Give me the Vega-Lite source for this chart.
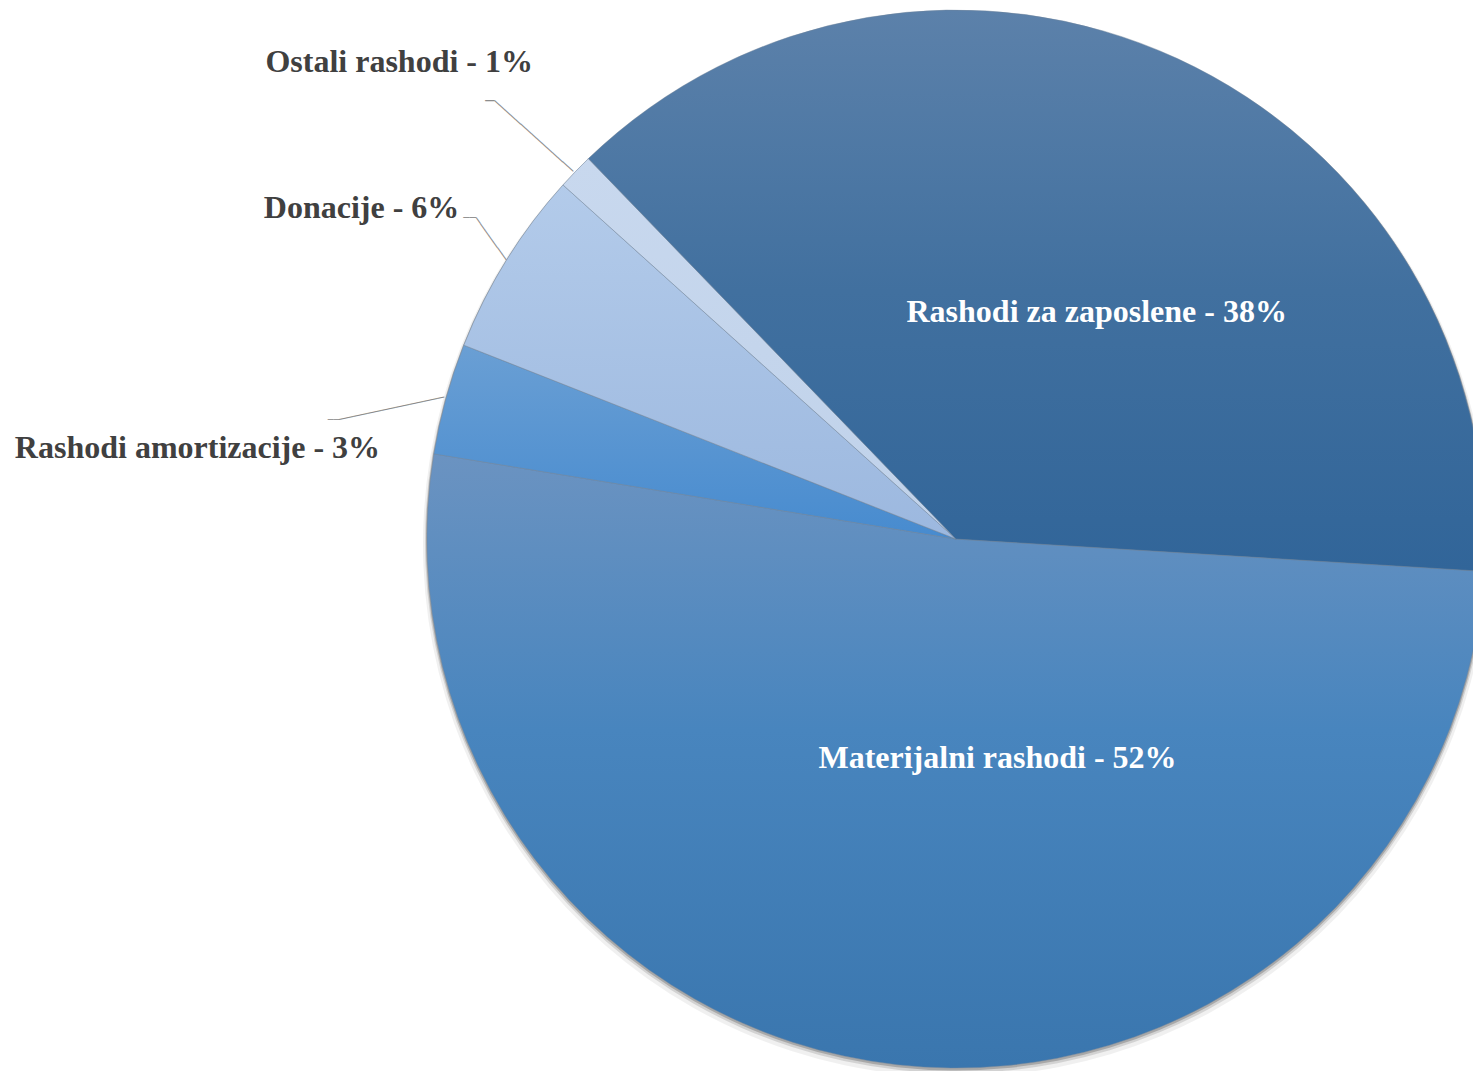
{
  "$schema": "https://vega.github.io/schema/vega-lite/v6.json",
  "width": 1473,
  "height": 1071,
  "padding": 0,
  "autosize": {"type": "none"},
  "background": "white",
  "config": {"view": {"stroke": null}},
  "data": {
    "values": [
      {"name": "Materijalni rashodi", "value": 51.6, "order": 1, "label": "Materijalni rashodi - 52%"},
      {"name": "Rashodi amortizacije", "value": 3.4, "order": 2, "label": "Rashodi amortizacije - 3%"},
      {"name": "Donacije", "value": 5.7, "order": 3, "label": "Donacije - 6%"},
      {"name": "Ostali rashodi", "value": 1.1, "order": 4, "label": "Ostali rashodi - 1%"},
      {"name": "Rashodi za zaposlene", "value": 38.2, "order": 5, "label": "Rashodi za zaposlene - 38%"}
    ]
  },
  "encoding": {
    "theta": {"field": "value", "type": "quantitative", "stack": true, "scale": {"range": [1.6319, 7.9151]}},
    "order": {"field": "order", "type": "quantitative"}
  },
  "layer": [
    {
      "mark": {"type": "arc", "x": {"expr": "width*0.649"}, "y": {"expr": "height*0.5033+5"}, "outerRadius": 533, "fill": "#000000", "opacity": 0.06, "stroke": null}
    },
    {
      "mark": {"type": "arc", "x": {"expr": "width*0.649"}, "y": {"expr": "height*0.5033+3"}, "outerRadius": 531, "fill": "#000000", "opacity": 0.12, "stroke": null}
    },
    {
      "mark": {"type": "arc", "x": {"expr": "width*0.649"}, "y": {"expr": "height*0.5033+1.5"}, "outerRadius": 530, "fill": "#000000", "opacity": 0.2, "stroke": null}
    },
    {
      "mark": {"type": "arc", "x": {"expr": "width*0.649"}, "y": {"expr": "height*0.5033"}, "outerRadius": 529, "stroke": "#6f849c", "strokeWidth": 0.8, "strokeOpacity": 0.6},
      "encoding": {
        "fill": {
          "condition": [
            {"test": "datum.name === 'Materijalni rashodi'", "value": {"gradient": "linear", "x1": 0, "y1": 0, "x2": 0, "y2": 1, "stops": [{"offset": 0, "color": "#6b93c1"}, {"offset": 0.45, "color": "#4885be"}, {"offset": 1, "color": "#3a76ae"}]}},
            {"test": "datum.name === 'Rashodi amortizacije'", "value": {"gradient": "linear", "x1": 0, "y1": 0, "x2": 0, "y2": 1, "stops": [{"offset": 0, "color": "#6a9fd4"}, {"offset": 1, "color": "#478bcf"}]}},
            {"test": "datum.name === 'Donacije'", "value": {"gradient": "linear", "x1": 0, "y1": 0, "x2": 0, "y2": 1, "stops": [{"offset": 0, "color": "#b3cbea"}, {"offset": 1, "color": "#9cb8df"}]}},
            {"test": "datum.name === 'Ostali rashodi'", "value": {"gradient": "linear", "x1": 0, "y1": 0, "x2": 0, "y2": 1, "stops": [{"offset": 0, "color": "#c8d8ee"}, {"offset": 1, "color": "#c0d2ea"}]}}
          ],
          "value": {"gradient": "linear", "x1": 0, "y1": 0, "x2": 0, "y2": 1, "stops": [{"offset": 0, "color": "#5c81aa"}, {"offset": 0.5, "color": "#41709f"}, {"offset": 1, "color": "#316599"}]}
        }
      }
    },
    {
      "mark": {"type": "text", "x": {"expr": "width*0.649"}, "y": {"expr": "height*0.5033"}, "radius": 583.7, "angle": 41.9, "dx": -0.1, "dy": 3.3, "font": "DejaVu Sans Mono", "fontSize": 11.74, "fill": "#8c8c8c", "align": "center", "baseline": "middle"},
      "encoding": {"text": {"condition": {"test": "datum.name === 'Ostali rashodi'", "value": "───────────────"}, "value": ""}}
    },
    {
      "mark": {"type": "text", "x": {"expr": "width*0.649"}, "y": {"expr": "height*0.5033"}, "radius": 640, "dx": -5.9, "dy": 6.1, "font": "DejaVu Sans Mono", "fontSize": 15, "fill": "#8c8c8c", "align": "center", "baseline": "middle"},
      "encoding": {"text": {"condition": {"test": "datum.name === 'Ostali rashodi'", "value": "─"}, "value": ""}}
    },
    {
      "mark": {"type": "text", "x": {"expr": "width*0.649"}, "y": {"expr": "height*0.5033"}, "radius": 553.4, "angle": 54.7, "dx": -4.0, "dy": -9.6, "font": "DejaVu Sans Mono", "fontSize": 12.3, "fill": "#8c8c8c", "align": "center", "baseline": "middle"},
      "encoding": {"text": {"condition": {"test": "datum.name === 'Donacije'", "value": "───────"}, "value": ""}}
    },
    {
      "mark": {"type": "text", "x": {"expr": "width*0.649"}, "y": {"expr": "height*0.5033"}, "radius": 583, "dx": 9.4, "dy": -14.2, "font": "DejaVu Sans Mono", "fontSize": 10.5, "fill": "#8c8c8c", "align": "center", "baseline": "middle"},
      "encoding": {"text": {"condition": {"test": "datum.name === 'Donacije'", "value": "──"}, "value": ""}}
    },
    {
      "mark": {"type": "text", "x": {"expr": "width*0.649"}, "y": {"expr": "height*0.5033"}, "radius": 579, "angle": -12.1, "dx": -10.7, "dy": 21.2, "font": "DejaVu Sans Mono", "fontSize": 11.9, "fill": "#8c8c8c", "align": "center", "baseline": "middle"},
      "encoding": {"text": {"condition": {"test": "datum.name === 'Rashodi amortizacije'", "value": "───────────────"}, "value": ""}}
    },
    {
      "mark": {"type": "text", "x": {"expr": "width*0.649"}, "y": {"expr": "height*0.5033"}, "radius": 633, "dx": -12, "dy": 49, "font": "DejaVu Sans Mono", "fontSize": 9.7, "fill": "#8c8c8c", "align": "center", "baseline": "middle"},
      "encoding": {"text": {"condition": {"test": "datum.name === 'Rashodi amortizacije'", "value": "──"}, "value": ""}}
    },
    {
      "mark": {"type": "text", "x": {"expr": "width*0.649"}, "y": {"expr": "height*0.5033"}, "radius": 267, "dx": 29, "dy": 15, "font": "Liberation Serif", "fontWeight": "bold", "fontSize": 32, "fill": "#ffffff", "align": "center", "baseline": "middle"},
      "encoding": {"text": {"condition": {"test": "datum.name === 'Rashodi za zaposlene'", "field": "label", "type": "nominal"}, "value": ""}}
    },
    {
      "mark": {"type": "text", "x": {"expr": "width*0.649"}, "y": {"expr": "height*0.5033"}, "radius": 220, "dx": 66, "dy": 0, "font": "Liberation Serif", "fontWeight": "bold", "fontSize": 32, "fill": "#ffffff", "align": "center", "baseline": "middle"},
      "encoding": {"text": {"condition": {"test": "datum.name === 'Materijalni rashodi'", "field": "label", "type": "nominal"}, "value": ""}}
    },
    {
      "mark": {"type": "text", "x": {"expr": "width*0.649"}, "y": {"expr": "height*0.5033"}, "radius": 620, "dx": 23, "dy": -46, "font": "Liberation Serif", "fontWeight": "bold", "fontSize": 32, "fill": "#404040", "align": "right", "baseline": "middle"},
      "encoding": {"text": {"condition": {"test": "datum.name === 'Ostali rashodi'", "field": "label", "type": "nominal"}, "value": ""}}
    },
    {
      "mark": {"type": "text", "x": {"expr": "width*0.649"}, "y": {"expr": "height*0.5033"}, "radius": 590, "dx": 5, "dy": -20, "font": "Liberation Serif", "fontWeight": "bold", "fontSize": 32, "fill": "#404040", "align": "right", "baseline": "middle"},
      "encoding": {"text": {"condition": {"test": "datum.name === 'Donacije'", "field": "label", "type": "nominal"}, "value": ""}}
    },
    {
      "mark": {"type": "text", "x": {"expr": "width*0.649"}, "y": {"expr": "height*0.5033"}, "radius": 590, "dx": -7, "dy": 65, "font": "Liberation Serif", "fontWeight": "bold", "fontSize": 32, "fill": "#404040", "align": "right", "baseline": "middle"},
      "encoding": {"text": {"condition": {"test": "datum.name === 'Rashodi amortizacije'", "field": "label", "type": "nominal"}, "value": ""}}
    }
  ]
}
